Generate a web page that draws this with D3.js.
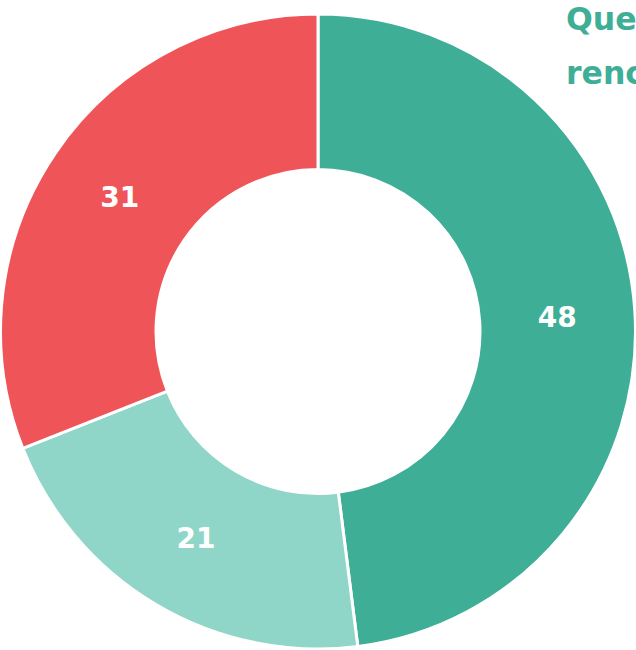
<!DOCTYPE html>
<html>
<head>
<meta charset="utf-8">
<script src="https://cdn.jsdelivr.net/npm/d3@7"></script>
<style>
  html, body { margin: 0; padding: 0; background: #fff; overflow: hidden; }
  svg { display: block; }
</style>
</head>
<body>
<div id="chart"></div>
<script>
const categories = ["A", "B", "C"];
const values = [48, 21, 31];
const colors = ["#3eae96", "#8fd6c8", "#ef5459"];
const titleLines = ["Questions", "rencontrées"];

const width = 636, height = 650;
const cx = 318, cy = 331.5;
const outerR = 317.5, innerR = 162;

const svg = d3.select("#chart").append("svg")
  .attr("width", width).attr("height", height);

const pie = d3.pie().sort(null).value(d => d.value);
const arcs = pie(categories.map((c, i) => ({ cat: c, value: values[i], color: colors[i] })));
const arc = d3.arc().innerRadius(innerR).outerRadius(outerR);

const g = svg.append("g").attr("transform", `translate(${cx},${cy})`);
g.selectAll("path").data(arcs).join("path")
  .attr("d", arc)
  .attr("fill", d => d.data.color)
  .attr("stroke", "#fff")
  .attr("stroke-width", 3)
  .attr("stroke-linejoin", "round");

g.selectAll("text.lbl").data(arcs).join("text")
  .attr("class", "lbl")
  .attr("transform", d => `translate(${arc.centroid(d)})`)
  .attr("text-anchor", "middle")
  .attr("dy", "0.36em")
  .attr("fill", "#fff")
  .attr("font-family", "'DejaVu Sans', sans-serif")
  .attr("font-weight", "bold")
  .attr("font-size", 28)
  .text(d => d.data.value);

const title = svg.append("text")
  .attr("font-family", "'DejaVu Sans', sans-serif")
  .attr("font-weight", "bold")
  .attr("font-size", 31.5)
  .attr("fill", "#3eae96");
title.selectAll("tspan").data(titleLines).join("tspan")
  .attr("x", 566)
  .attr("y", (d, i) => 30 + i * 54)
  .text(d => d);
</script>
</body>
</html>
